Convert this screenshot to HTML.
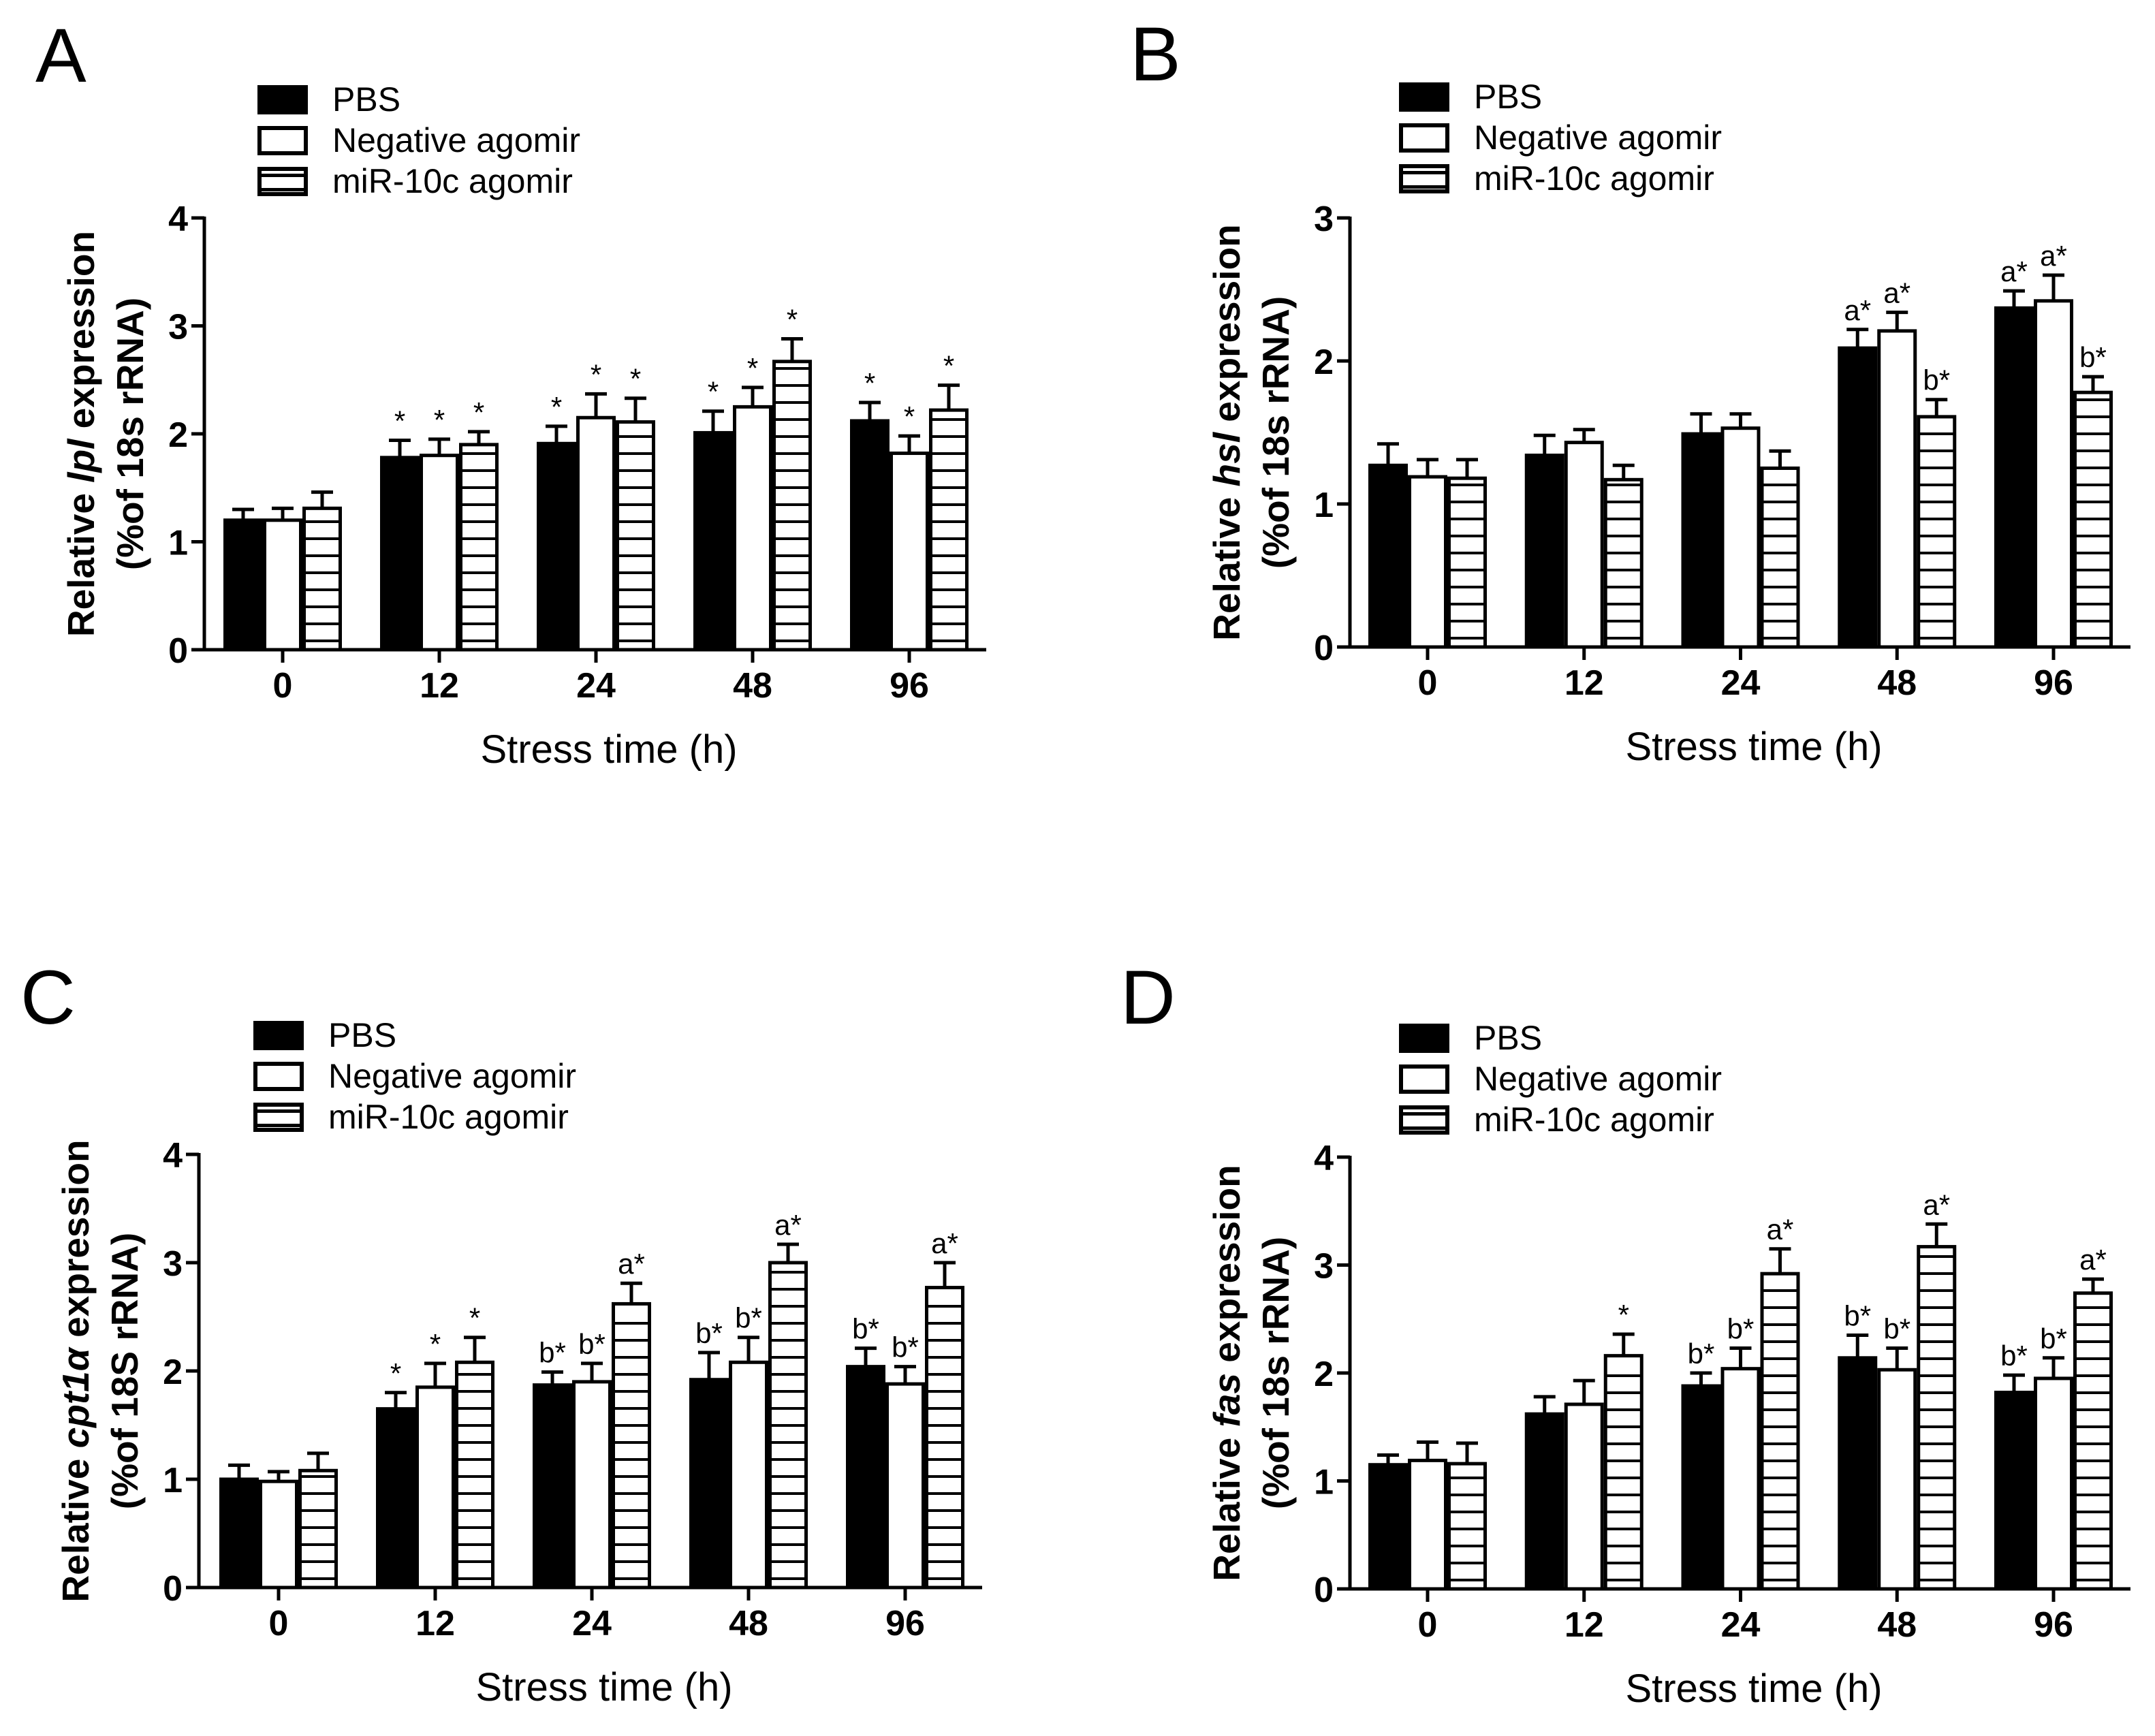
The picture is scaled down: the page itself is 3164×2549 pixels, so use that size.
<!DOCTYPE html>
<html><head><meta charset="utf-8">
<style>
html,body{margin:0;padding:0;background:#fff;}
svg{display:block;font-family:"Liberation Sans",Arial,sans-serif;}
</style></head>
<body>
<svg id="fig" width="3164" height="2549" viewBox="0 0 3164 2549" xmlns="http://www.w3.org/2000/svg"></svg>
<script>
const categories = ["0","12","24","48","96"];
const seriesNames = ["PBS","Negative agomir","miR-10c agomir"];

const aPBS = [1.20,1.78,1.91,2.01,2.12];
const aPBSErr = [0.10,0.16,0.16,0.20,0.17];
const aNeg = [1.20,1.80,2.15,2.25,1.82];
const aNegErr = [0.11,0.15,0.22,0.18,0.16];
const aMir = [1.31,1.90,2.11,2.67,2.22];
const aMirErr = [0.15,0.12,0.22,0.21,0.23];
const aLabels = [["","",""],["*","*","*"],["*","*","*"],["*","*","*"],["*","*","*"]];
const aTicks = [0,1,2,3,4];

const bPBS = [1.27,1.34,1.49,2.09,2.37];
const bPBSErr = [0.15,0.14,0.14,0.13,0.12];
const bNeg = [1.19,1.43,1.53,2.21,2.42];
const bNegErr = [0.12,0.09,0.10,0.13,0.18];
const bMir = [1.18,1.17,1.25,1.61,1.78];
const bMirErr = [0.13,0.10,0.12,0.12,0.11];
const bLabels = [["","",""],["","",""],["","",""],["a*","a*","b*"],["a*","a*","b*"]];
const bTicks = [0,1,2,3];

const cPBS = [1.00,1.65,1.87,1.92,2.04];
const cPBSErr = [0.13,0.15,0.12,0.25,0.17];
const cNeg = [0.98,1.85,1.90,2.08,1.88];
const cNegErr = [0.09,0.22,0.17,0.23,0.16];
const cMir = [1.08,2.08,2.62,3.00,2.77];
const cMirErr = [0.16,0.23,0.19,0.17,0.23];
const cLabels = [["","",""],["*","*","*"],["b*","b*","a*"],["b*","b*","a*"],["b*","b*","a*"]];
const cTicks = [0,1,2,3,4];

const dPBS = [1.15,1.62,1.88,2.14,1.82];
const dPBSErr = [0.09,0.16,0.12,0.21,0.16];
const dNeg = [1.19,1.71,2.04,2.03,1.95];
const dNegErr = [0.17,0.22,0.19,0.20,0.19];
const dMir = [1.16,2.16,2.92,3.17,2.74];
const dMirErr = [0.19,0.20,0.23,0.21,0.13];
const dLabels = [["","",""],["","","*"],["b*","b*","a*"],["b*","b*","a*"],["b*","b*","a*"]];
const dTicks = [0,1,2,3,4];

const NS = "http://www.w3.org/2000/svg";
const svg = document.getElementById("fig");
function mk(tag, attrs, parent){
  const e = document.createElementNS(NS, tag);
  for (const k in attrs) e.setAttribute(k, attrs[k]);
  (parent||svg).appendChild(e);
  return e;
}

const panels = [
  {id:"a", letter:"A", lx:52, ly:120, axisX:300, y0:954, yTop:320, max:4, c0:415, step:230, xEnd:1448,
   legX:378, legY:125, gene:"lpl", unit:"(%of 18s rRNA)", vals:[aPBS,aNeg,aMir], errs:[aPBSErr,aNegErr,aMirErr], labels:aLabels, ticks:aTicks},
  {id:"b", letter:"B", lx:1659, ly:118, axisX:1982, y0:950, yTop:320, max:3, c0:2096, step:229.75, xEnd:3128,
   legX:2054, legY:121, gene:"hsl", unit:"(%of 18s rRNA)", vals:[bPBS,bNeg,bMir], errs:[bPBSErr,bNegErr,bMirErr], labels:bLabels, ticks:bTicks},
  {id:"c", letter:"C", lx:30, ly:1503, axisX:292, y0:2331, yTop:1695, max:4, c0:409, step:230, xEnd:1442,
   legX:372, legY:1499, gene:"cpt1α", unit:"(%of 18S rRNA)", vals:[cPBS,cNeg,cMir], errs:[cPBSErr,cNegErr,cMirErr], labels:cLabels, ticks:cTicks},
  {id:"d", letter:"D", lx:1645, ly:1503, axisX:1982, y0:2333, yTop:1699, max:4, c0:2096, step:229.75, xEnd:3128,
   legX:2054, legY:1503, gene:"fas", unit:"(%of 18s rRNA)", vals:[dPBS,dNeg,dMir], errs:[dPBSErr,dNegErr,dMirErr], labels:dLabels, ticks:dTicks}
];

const BW = 58;
panels.forEach(p => {
  const g = mk("g", {});
  
  
  const yS = v => p.y0 - (v / p.max) * (p.y0 - p.yTop);
  const xC = i => p.c0 + i * p.step;

  const L = mk("text", {x:p.lx, y:p.ly, "font-size":112}, g);
  L.textContent = p.letter;
  
  

  // legend
  const leg = mk("g", {}, g);
  
  
  seriesNames.forEach((nm, s) => {
    const ent = mk("g", {}, leg);
    
    
    const by = p.legY + s * 60;
    if (s === 0) mk("rect", {x:p.legX, y:by, width:74, height:43, fill:"#000"}, ent);
    else if (s === 1) mk("rect", {x:p.legX+3, y:by+3, width:68, height:37, fill:"#fff", stroke:"#000", "stroke-width":6}, ent);
    else {
      mk("rect", {x:p.legX+3, y:by+3, width:68, height:37, fill:"#fff", stroke:"#000", "stroke-width":6}, ent);
      mk("rect", {x:p.legX, y:by+10, width:74, height:5, fill:"#000"}, ent);
      mk("rect", {x:p.legX, y:by+31, width:74, height:5, fill:"#000"}, ent);
    }
    const t = mk("text", {x:p.legX+110, y:by+38, "font-size":50}, ent);
    t.textContent = nm;
  });

  // bars
  categories.forEach((c, i) => {
    for (let s = 0; s < 3; s++) {
      const v = p.vals[s][i], e = p.errs[s][i];
      const x = xC(i) - 1.5*BW + s*BW;
      const top = yS(v), et = yS(v + e);
      const bg = mk("g", {}, g);
      
      
      mk("line", {x1:x+BW/2, y1:top, x2:x+BW/2, y2:et, stroke:"#000", "stroke-width":5}, bg);
      mk("line", {x1:x+BW/2-16, y1:et, x2:x+BW/2+16, y2:et, stroke:"#000", "stroke-width":5}, bg);
      if (s === 0) {
        mk("rect", {x:x, y:top-2.5, width:BW, height:p.y0-top+2.5, fill:"#000"}, bg);
      } else {
        mk("rect", {x:x+2.5, y:top, width:BW-5, height:p.y0-top, fill:"#fff", stroke:"#000", "stroke-width":5}, bg);
        if (s === 2) {
          for (let hy = p.y0 - 13; hy > top + 6; hy -= 25) {
            mk("line", {x1:x+2, y1:hy, x2:x+BW-2, y2:hy, stroke:"#000", "stroke-width":4}, bg);
          }
        }
      }
      const lab = p.labels[i][s];
      if (lab) {
        const t = mk("text", {x:x+BW/2, y:et-14, "font-size":42, "text-anchor":"middle"}, bg);
        t.textContent = lab;
        
        
      }
    }
  });

  // axes
  const ax = mk("g", {stroke:"#000", "stroke-width":5}, g);
  
  
  mk("line", {x1:p.axisX, y1:p.yTop-2, x2:p.axisX, y2:p.y0+2.5}, ax);
  mk("line", {x1:p.axisX-19, y1:p.y0, x2:p.xEnd, y2:p.y0}, ax);
  p.ticks.forEach(t => {
    mk("line", {x1:p.axisX-19, y1:yS(t), x2:p.axisX, y2:yS(t)}, ax);
    const tl = mk("text", {x:p.axisX-24, y:yS(t)+19, "font-size":52, "font-weight":"bold", "text-anchor":"end", stroke:"none"}, g);
    tl.textContent = t;
    
    
  });
  categories.forEach((c, i) => {
    mk("line", {x1:xC(i), y1:p.y0, x2:xC(i), y2:p.y0+19}, ax);
    const tl = mk("text", {x:xC(i), y:p.y0+70, "font-size":52, "font-weight":"bold", "text-anchor":"middle"}, g);
    tl.textContent = c;
    
    
  });

  const xt = mk("text", {x:(p.axisX + p.xEnd)/2 + 20, y:p.y0+166, "font-size":58, "text-anchor":"middle"}, g);
  xt.textContent = "Stress time (h)";
  
  

  const my = (p.y0 + p.yTop) / 2;
  const yt = mk("text", {"font-size":55, "font-weight":"bold", "text-anchor":"middle",
    transform:`translate(${p.axisX-162},${my}) rotate(-90)`}, g);
  
  
  const t1 = mk("tspan", {x:0, y:0}, yt);
  t1.textContent = "Relative ";
  const t2 = mk("tspan", {"font-style":"italic"}, yt);
  t2.textContent = p.gene;
  const t3 = mk("tspan", {}, yt);
  t3.textContent = " expression";
  const t4 = mk("tspan", {x:0, y:72}, yt);
  t4.textContent = p.unit;
});
</script>
</body></html>
